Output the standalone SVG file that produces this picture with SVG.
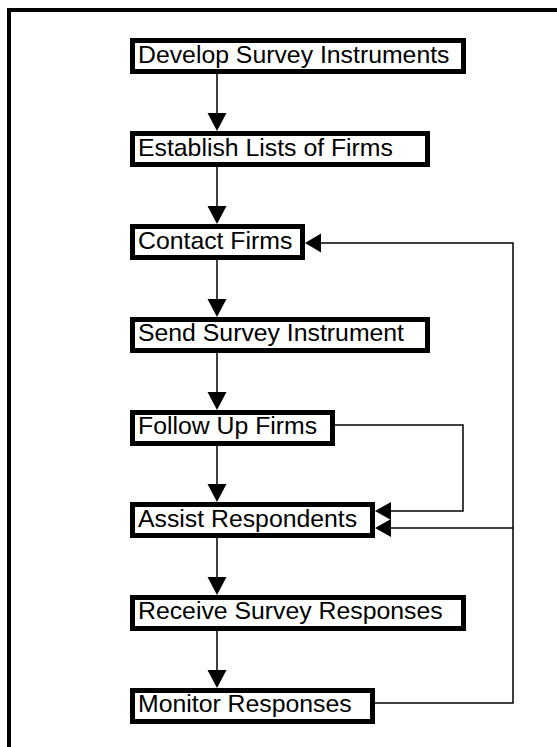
<svg xmlns="http://www.w3.org/2000/svg" width="557" height="747" viewBox="0 0 557 747">
<defs>
<style>
.box{fill:#fff;stroke:#000;stroke-width:5}
.lbl{font-family:"Liberation Sans",Arial,sans-serif;font-size:24.8px;fill:#000}
.ln{fill:none;stroke:#000;stroke-width:1.5}
.ah{fill:#000;stroke:none}
</style>
</defs>
<rect width="557" height="747" fill="#fff"/>
<path d="M9 747 V10 H557" fill="none" stroke="#000" stroke-width="4"/>
<g id="connectors">
<line class="ln" x1="217" y1="74" x2="217" y2="114"/>
<polygon class="ah" points="207.5,113 226.5,113 217,131"/>
<line class="ln" x1="217" y1="167" x2="217" y2="207"/>
<polygon class="ah" points="207.5,206 226.5,206 217,224"/>
<line class="ln" x1="217" y1="260" x2="217" y2="300"/>
<polygon class="ah" points="207.5,299 226.5,299 217,317"/>
<line class="ln" x1="217" y1="353" x2="217" y2="393"/>
<polygon class="ah" points="207.5,392 226.5,392 217,410"/>
<line class="ln" x1="217" y1="446" x2="217" y2="485"/>
<polygon class="ah" points="207.5,484 226.5,484 217,502"/>
<line class="ln" x1="217" y1="538" x2="217" y2="578"/>
<polygon class="ah" points="207.5,577 226.5,577 217,595"/>
<line class="ln" x1="217" y1="631" x2="217" y2="671"/>
<polygon class="ah" points="207.5,670 226.5,670 217,688"/>
<polyline class="ln" points="370,703 513,703 513,243 320,243"/>
<polygon class="ah" points="305,243 321,233.5 321,252.5"/>
<polyline class="ln" points="335,425 463,425 463,511 390,511"/>
<polygon class="ah" points="375,511 391,502 391,520"/>
<line class="ln" x1="513" y1="528" x2="390" y2="528"/>
<polygon class="ah" points="375,528 391,519 391,537"/>
</g>
<g id="n1"><rect class="box" x="132.5" y="40.5" width="331" height="31"/><text class="lbl" x="138" y="63">Develop Survey Instruments</text></g>
<g id="n2"><rect class="box" x="132.5" y="133.5" width="295" height="31"/><text class="lbl" x="138" y="156">Establish Lists of Firms</text></g>
<g id="n3"><rect class="box" x="132.5" y="226.5" width="170" height="31"/><text class="lbl" x="138" y="249">Contact Firms</text></g>
<g id="n4"><rect class="box" x="132.5" y="319.5" width="295" height="31"/><text class="lbl" x="138" y="341">Send Survey Instrument</text></g>
<g id="n5"><rect class="box" x="132.5" y="412.5" width="200" height="31"/><text class="lbl" x="138" y="434">Follow Up Firms</text></g>
<g id="n6"><rect class="box" x="132.5" y="504.5" width="240" height="31"/><text class="lbl" x="138" y="527">Assist Respondents</text></g>
<g id="n7"><rect class="box" x="132.5" y="597.5" width="331" height="31"/><text class="lbl" x="138" y="619">Receive Survey Responses</text></g>
<g id="n8"><rect class="box" x="132.5" y="690.5" width="240" height="31"/><text class="lbl" x="138" y="712">Monitor Responses</text></g>
</svg>
